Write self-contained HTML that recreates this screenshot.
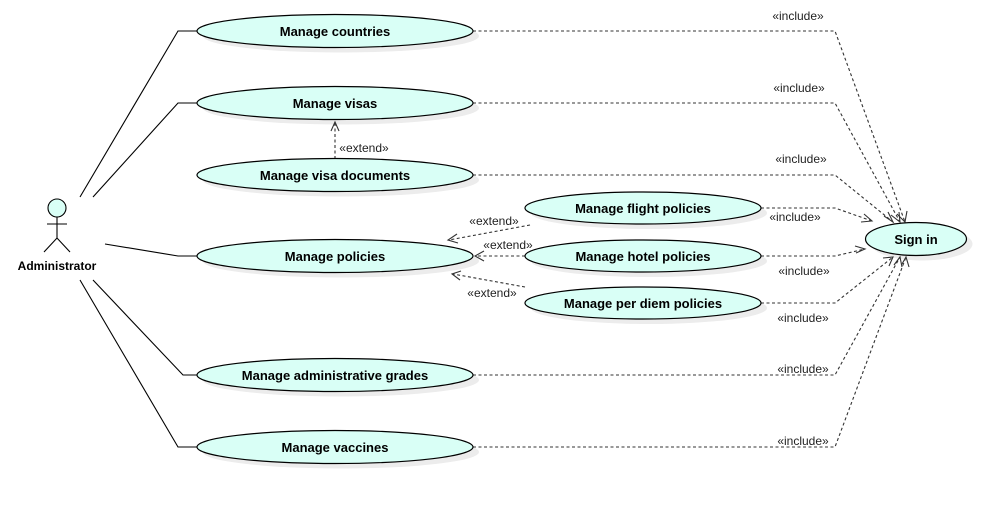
<!DOCTYPE html>
<html><head><meta charset="utf-8"><style>
html,body{margin:0;padding:0;background:#fff;}
svg{display:block;font-family:"Liberation Sans",Arial,sans-serif;}
.uc{fill:#d9fff6;stroke:#000;stroke-width:1.2;}
.sh{fill:#ececec;}
.t{font-size:13px;font-weight:bold;text-anchor:middle;fill:#000;}
.l{font-size:12px;text-anchor:middle;fill:#222;}
.a{fill:none;stroke:#000;stroke-width:1.1;}
.d{fill:none;stroke:#333;stroke-width:1.1;stroke-dasharray:3,2.5;}
.h{fill:none;stroke:#333;stroke-width:1.1;}
</style></head><body>
<svg width="1007" height="505" viewBox="0 0 1007 505">
<!-- shadows -->
<g class="sh">
<ellipse cx="341" cy="36" rx="138" ry="16.5"/>
<ellipse cx="341" cy="108" rx="138" ry="16.5"/>
<ellipse cx="341" cy="180" rx="138" ry="16.5"/>
<ellipse cx="341" cy="261" rx="138" ry="16.5"/>
<ellipse cx="341" cy="380" rx="138" ry="16.5"/>
<ellipse cx="341" cy="452" rx="138" ry="16.5"/>
<ellipse cx="649" cy="213" rx="118" ry="16"/>
<ellipse cx="649" cy="261" rx="118" ry="16"/>
<ellipse cx="649" cy="308" rx="118" ry="16"/>
<ellipse cx="922" cy="244" rx="50.5" ry="16.5"/>
</g>
<!-- actor lines -->
<polyline class="a" points="80,197 178,31 197,31"/>
<polyline class="a" points="93,197 178,103 197,103"/>
<polyline class="a" points="105,244 178,256 197,256"/>
<polyline class="a" points="93,280 183,375 197,375"/>
<polyline class="a" points="80,280 178,447 197,447"/>
<!-- include lines -->
<polyline class="d" points="473,31 835,31 905,222"/>
<polyline class="d" points="473,103 835,103 900,222"/>
<polyline class="d" points="473,175 835,175 893,222"/>
<polyline class="d" points="761,208 835,208 872,221"/>
<polyline class="d" points="761,256 835,256 865,249"/>
<polyline class="d" points="761,303 835,303 893,257"/>
<polyline class="d" points="473,375 835,375 900,257"/>
<polyline class="d" points="473,447 835,447 906,257"/>
<!-- arrowheads include -->
<polyline class="h" points="897,214 905,222 907,211"/>
<polyline class="h" points="891,215 900,222 899,212"/>
<polyline class="h" points="884,216 893,222 888,212"/>
<polyline class="h" points="861,222 872,221 864,214"/>
<polyline class="h" points="855,246 865,249 856,253"/>
<polyline class="h" points="883,258 893,257 889,266"/>
<polyline class="h" points="894,265 900,257 902,267"/>
<polyline class="h" points="902,264 906,257 909,267"/>
<!-- extend -->
<line class="d" x1="335" y1="159" x2="335" y2="123"/>
<polyline class="h" points="331,131 335,122 339,131"/>
<line class="d" x1="530" y1="225" x2="449" y2="240"/>
<polyline class="h" points="457,234 448,240 458,243"/>
<line class="d" x1="525" y1="256" x2="475" y2="256"/>
<polyline class="h" points="484,251 475,256 484,261"/>
<line class="d" x1="525" y1="287" x2="453" y2="274"/>
<polyline class="h" points="461,271 452,274 460,280"/>
<!-- use cases -->
<ellipse class="uc" cx="335" cy="31" rx="138" ry="16.5"/>
<ellipse class="uc" cx="335" cy="103" rx="138" ry="16.5"/>
<ellipse class="uc" cx="335" cy="175" rx="138" ry="16.5"/>
<ellipse class="uc" cx="335" cy="256" rx="138" ry="16.5"/>
<ellipse class="uc" cx="335" cy="375" rx="138" ry="16.5"/>
<ellipse class="uc" cx="335" cy="447" rx="138" ry="16.5"/>
<ellipse class="uc" cx="643" cy="208" rx="118" ry="16"/>
<ellipse class="uc" cx="643" cy="256" rx="118" ry="16"/>
<ellipse class="uc" cx="643" cy="303" rx="118" ry="16"/>
<ellipse class="uc" cx="916" cy="239" rx="50.5" ry="16.5"/>
<text class="t" x="335" y="36">Manage countries</text>
<text class="t" x="335" y="108">Manage visas</text>
<text class="t" x="335" y="180">Manage visa documents</text>
<text class="t" x="335" y="261">Manage policies</text>
<text class="t" x="335" y="380">Manage administrative grades</text>
<text class="t" x="335" y="452">Manage vaccines</text>
<text class="t" x="643" y="213">Manage flight policies</text>
<text class="t" x="643" y="261">Manage hotel policies</text>
<text class="t" x="643" y="308">Manage per diem policies</text>
<text class="t" x="916" y="244">Sign in</text>
<!-- labels -->
<text class="l" x="798" y="20">«include»</text>
<text class="l" x="799" y="92">«include»</text>
<text class="l" x="801" y="163">«include»</text>
<text class="l" x="795" y="221">«include»</text>
<text class="l" x="804" y="275">«include»</text>
<text class="l" x="803" y="322">«include»</text>
<text class="l" x="803" y="373">«include»</text>
<text class="l" x="803" y="445">«include»</text>
<text class="l" x="364" y="152">«extend»</text>
<text class="l" x="494" y="225">«extend»</text>
<text class="l" x="508" y="249">«extend»</text>
<text class="l" x="492" y="297">«extend»</text>
<!-- actor -->
<circle cx="57" cy="208" r="9" fill="#d9fff6" stroke="#000" stroke-width="1.1"/>
<line class="a" x1="57" y1="217" x2="57" y2="238"/>
<line class="a" x1="47" y1="224" x2="67" y2="224"/>
<polyline class="a" points="44,252 57,238 70,252"/>
<text class="t" x="57" y="270" style="font-size:12px">Administrator</text>
</svg>
</body></html>
